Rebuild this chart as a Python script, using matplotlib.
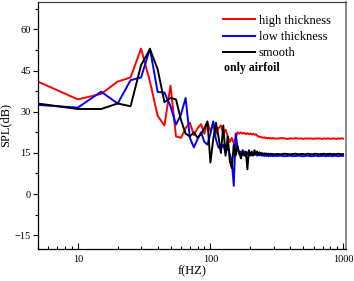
import matplotlib.pyplot as plt
from matplotlib.ticker import LogLocator, MultipleLocator, NullFormatter

plt.rcParams['font.family'] = ['Liberation Serif', 'DejaVu Serif']

# frequency grid (Hz): 5 Hz steps up to 300, 20 Hz steps above
freq = list(range(5, 305, 5)) + list(range(320, 1001, 20))

high_thickness = [
    41, 34.5, 36.5, 41, 42.5, 53, 41, 28.5, 25, 39.5,
    21, 20.5, 24, 26, 21.5, 24, 25.5, 22, 26, 23,
    25.5, 22, 24, 25, 22, 23.5, 21, 19, 20.5, 18.5,
    20.5, 22.5, 22, 22.5, 22, 22.3, 21.8, 22.2, 21.8, 22.1,
    21.7, 22, 21.6, 21.8, 21.3, 21, 20.8, 20.9, 20.6, 20.5,
    20.7, 20.4, 20.5, 20.3, 20.5, 20.3, 20.4, 20.2, 20.4, 20.3,
    20.2, 20.4, 20.3, 20.1, 20.3, 20.2, 20.4,
    20.2, 20.3, 20.1, 20.3, 20.2, 20.3, 20.2,
    20.1, 20.3, 20.2, 20.3, 20.2, 20.1, 20.3,
    20.2, 20.2, 20.3, 20.1, 20.2, 20.3, 20.2,
    20.2, 20.1, 20.3, 20.2, 20.2, 20.3, 20.2,
]

low_thickness = [
    32.5, 31.5, 37.3, 33, 41.5, 42.5, 53, 37.2, 37, 32,
    25.3, 29, 35, 20.5, 17, 20, 22.5, 19, 18, 22,
    26.5, 20, 17, 16.5, 18, 15, 17, 14.5, 12, 3,
    22, 17, 14.5, 15.5, 14.2, 15.5, 14, 15.2, 14.3, 15,
    14.1, 14.8, 14.3, 14.6, 14, 14.5, 14.1, 14.4, 14, 14.2,
    13.9, 14.1, 13.9, 14, 13.8, 14, 13.9, 14, 13.8, 13.9,
    13.9, 14.0, 13.8, 13.9, 14.0, 13.8, 13.9,
    14.0, 13.9, 13.8, 13.9, 14.0, 13.9, 13.8,
    13.9, 14.0, 13.9, 13.8, 13.9, 13.9, 14.0,
    13.8, 13.9, 13.9, 14.0, 13.8, 13.9, 13.9,
    14.0, 13.9, 13.8, 13.9, 13.9, 14.0, 13.9,
]

smooth = [
    33, 31, 31, 33, 32, 47, 52.8, 45.5, 33.5, 35,
    34.5, 27, 22, 21, 22.5, 20.5, 22, 24, 26.5, 11.5,
    20, 26, 21, 15, 25, 14, 21, 12, 9.5, 18,
    14, 17.5, 15, 13, 16, 14, 15.5, 9, 16, 14,
    15.5, 14, 16, 14.5, 15.5, 14.3, 15.2, 14.5, 15, 14.3,
    14.9, 14.4, 14.8, 14.5, 14.7, 14.5, 14.7, 14.5, 14.6, 14.5,
    14.6, 14.5, 14.7, 14.6, 14.5, 14.6, 14.7,
    14.5, 14.6, 14.6, 14.5, 14.7, 14.6, 14.5,
    14.6, 14.7, 14.6, 14.5, 14.6, 14.6, 14.7,
    14.5, 14.6, 14.6, 14.7, 14.5, 14.6, 14.6,
    14.5, 14.6, 14.7, 14.6, 14.6, 14.5, 14.6,
]

fig = plt.figure(figsize=(3.54, 2.81), dpi=100)
ax = fig.add_axes([0.107, 0.114, 0.870, 0.879])

ax.plot(freq, high_thickness, color='#ff0000', lw=1.4, label='high thickness')
ax.plot(freq, low_thickness, color='#0000ff', lw=1.4, label='low thickness')
ax.plot(freq, smooth, color='black', lw=1.4, label='smooth')

ax.set_xscale('log')
ax.set_xlim(5, 1050)
ax.set_ylim(-20, 70)

ax.yaxis.set_major_locator(MultipleLocator(15))
ax.yaxis.set_minor_locator(MultipleLocator(7.5))
ax.set_yticks([-15, 0, 15, 30, 45, 60])
ax.xaxis.set_major_locator(LogLocator(base=10))
ax.xaxis.set_minor_locator(LogLocator(base=10, subs=range(2, 10)))
ax.xaxis.set_minor_formatter(NullFormatter())
ax.set_xticks([10, 100, 1000])
ax.set_xticklabels(['10', '100', '1000'])

ax.tick_params(axis='y', which='major', direction='out', length=3.5, width=0.8,
               labelsize=7.5, pad=1.5, right=False)
ax.tick_params(axis='y', which='minor', direction='out', length=2, width=0.8, right=False)
ax.tick_params(axis='x', which='major', direction='in', length=4, width=0.8,
               labelsize=7.5, pad=4, top=False)
ax.tick_params(axis='x', which='minor', direction='in', length=2, width=0.8, top=False)

for s in ax.spines.values():
    s.set_linewidth(0.9)
ax.spines['top'].set_color('#444444')
ax.spines['right'].set_color('#777777')
ax.spines['right'].set_linewidth(1.2)

ax.set_xlabel('f(HZ)', fontsize=9, labelpad=1)
ax.set_ylabel('SPL(dB)', fontsize=9, labelpad=2)

ax.legend(loc='upper left', bbox_to_anchor=(0.600, 0.949), frameon=False,
          fontsize=9, handlelength=2.6, handletextpad=0.3, labelspacing=0.35,
          borderpad=0, borderaxespad=0)
ax.text(0.604, 0.733, 'only airfoil', transform=ax.transAxes, fontsize=8.5,
        fontweight='bold', va='center', ha='left')

fig.savefig('out.png', dpi=100)
